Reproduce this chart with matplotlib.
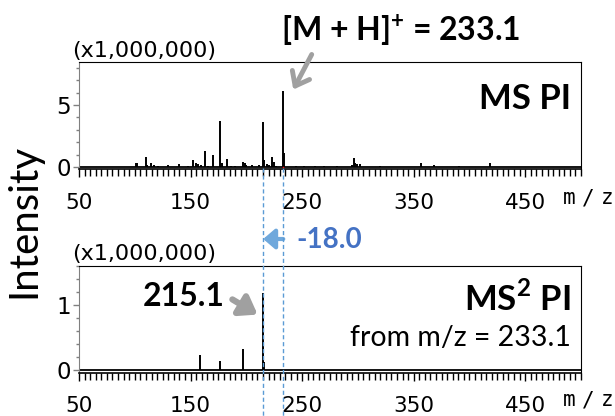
import matplotlib
matplotlib.use('Agg')
import matplotlib.pyplot as plt
from matplotlib.ticker import MultipleLocator, FixedLocator
from matplotlib.patches import FancyArrowPatch
from matplotlib.lines import Line2D
import matplotlib.transforms as mtransforms

plt.rcParams['mathtext.fontset'] = 'custom'
plt.rcParams['mathtext.rm'] = 'Lato'
plt.rcParams['mathtext.bf'] = 'Lato:bold'

# ---- data ----
ms1_mz = [101.0, 102.0, 109.8, 111.0, 114.3, 117.6, 121.0, 130.0, 140.0, 148.0,
          152.6, 154.7, 157.0, 159.0, 163.0, 166.0, 170.5, 176.5, 178.0, 182.5,
          186.0, 190.0, 196.9, 198.4, 200.0, 205.5, 211.8, 215.1, 216.2, 218.4,
          219.9, 222.6, 224.8, 227.0, 233.1, 234.1, 244.7, 251.3, 261.8, 270.0,
          281.0, 294.7, 296.2, 297.5, 299.2, 302.2, 320.0, 356.6, 368.6, 390.4,
          418.8]
ms1_int = [0.30, 0.30, 0.78, 0.20, 0.30, 0.20, 0.10, 0.15, 0.22, 0.10,
           0.56, 0.35, 0.25, 0.15, 1.32, 0.10, 0.95, 3.73, 0.32, 0.65,
           0.10, 0.08, 0.42, 0.30, 0.15, 0.20, 0.15, 3.60, 0.60, 0.25,
           0.20, 0.78, 0.38, 0.10, 6.15, 1.10, 0.10, 0.10, 0.05, 0.05,
           0.12, 0.20, 0.73, 0.30, 0.22, 0.25, 0.05, 0.35, 0.15, 0.12,
           0.35]
ms2_mz = [158.6, 176.5, 196.6, 215.1, 216.2]
ms2_int = [0.23, 0.14, 0.33, 1.19, 0.12]
precursor = 233.1
product = 215.1
xtick_vals = [50, 150, 250, 350, 450]

W, H = 615, 416
fig = plt.figure(figsize=(W / 100, H / 100), dpi=100)


def fx(x):
    return x / W


def fy(y):
    return 1 - y / H


TICKFONT = ['DejaVu Sans']
LAB = ['Lato', 'DejaVu Sans']

ax1 = fig.add_axes([fx(79), fy(169), (581 - 79) / W, (169 - 62) / H])
ax2 = fig.add_axes([fx(79), fy(372.5), (581 - 79) / W, (372.5 - 265.7) / H])

for ax, mz, it, ylim, ymaj, ymin in [
        (ax1, ms1_mz, ms1_int, (-0.16, 8.47), [0, 5], 1),
        (ax2, ms2_mz, ms2_int, (-0.035, 1.61), [0, 1], 0.2)]:
    ax.vlines(mz, 0, it, color='black', lw=1.4)
    ax.axhline(0, color='black', lw=1.3)
    ax.set_xlim(50, 500)
    ax.set_ylim(*ylim)
    ax.xaxis.set_major_locator(FixedLocator(xtick_vals))
    ax.xaxis.set_minor_locator(MultipleLocator(5))
    ax.yaxis.set_major_locator(FixedLocator(ymaj))
    ax.yaxis.set_minor_locator(MultipleLocator(ymin))
    ax.tick_params(axis='x', which='major', direction='out', length=6, width=1,
                   labelsize=15.5, pad=11)
    ax.tick_params(axis='x', which='minor', direction='out', length=5, width=1)
    ax.tick_params(axis='y', which='major', direction='out', length=4, width=1,
                   labelsize=16.5, pad=2, color='#808080')
    ax.tick_params(axis='y', which='minor', direction='out', length=2, width=1,
                   color='#808080')
    for lab in ax.get_xticklabels() + ax.get_yticklabels():
        lab.set_family(TICKFONT)
    ax.spines['left'].set_color('#808080')
    ax.spines['bottom'].set_linewidth(1.2)

# m/z labels (spaced characters)
for yy in (198, 400):
    for ch, xx in (('m', 569), ('/', 588), ('z', 607)):
        fig.text(fx(xx), fy(yy), ch, ha='center', va='center', fontsize=15,
                 family=['DejaVu Sans Mono'])

# precursor marker
ax1.plot([precursor, precursor], [-0.16, 0.0], color='red', lw=1)

# multiplier labels
fig.text(fx(144), fy(51), '(x1,000,000)', ha='center', va='center', fontsize=16, family=TICKFONT)
fig.text(fx(144), fy(254), '(x1,000,000)', ha='center', va='center', fontsize=16, family=TICKFONT)

# y label
fig.text(fx(24), fy(221), 'Intensity', rotation=90, ha='center', va='center', fontsize=29, family=LAB)

# panel labels
fig.text(fx(571), fy(99), 'MS PI', ha='right', va='center', fontsize=25, fontweight='bold', family=LAB)
fig.text(fx(571), fy(298), 'MS$^\\mathbf{2}$ PI', ha='right', va='center', fontsize=25, fontweight='bold', family=LAB)
fig.text(fx(571), fy(338), 'from m/z = 233.1', ha='right', va='center', fontsize=20.5, family=LAB)

# precursor annotation
fig.text(fx(401), fy(31), '[M + H]$^{\\mathbf{+}}$ = 233.1', ha='center', va='center', fontsize=23,
         fontweight='bold', family=LAB)
fig.patches.append(FancyArrowPatch((fx(313), fy(52)), (fx(292), fy(92)), transform=fig.transFigure,
                                   arrowstyle='->,head_length=9,head_width=7', lw=3.5, color='#A0A0A0',
                                   mutation_scale=1))

# product annotation
fig.text(fx(184), fy(297), '215.1', ha='center', va='center', fontsize=23, fontweight='bold', family=LAB)
fig.patches.append(FancyArrowPatch((fx(230), fy(298)), (fx(260), fy(316)), transform=fig.transFigure,
                                   arrowstyle='-|>,head_length=10,head_width=7', lw=4.5, color='#A0A0A0',
                                   mutation_scale=1))

# neutral loss
blend = mtransforms.blended_transform_factory(ax2.transData, fig.transFigure)
for xv in [product, precursor]:
    fig.lines.append(Line2D([xv, xv], [fy(168), 0], transform=blend, color='#5B9BD5', lw=1,
                            linestyle=(0, (3, 2))))
fig.patches.append(FancyArrowPatch((precursor, fy(239)), (product, fy(239)), transform=blend,
                                   arrowstyle='-|>,head_length=7,head_width=6', lw=3, color='#6FA8DC',
                                   mutation_scale=1, shrinkA=0, shrinkB=0))
fig.text(fx(296), fy(240), '-18.0', ha='left', va='center', fontsize=20, fontweight='bold',
         color='#4472C4', family=LAB)

fig.savefig('out.png', dpi=100)
